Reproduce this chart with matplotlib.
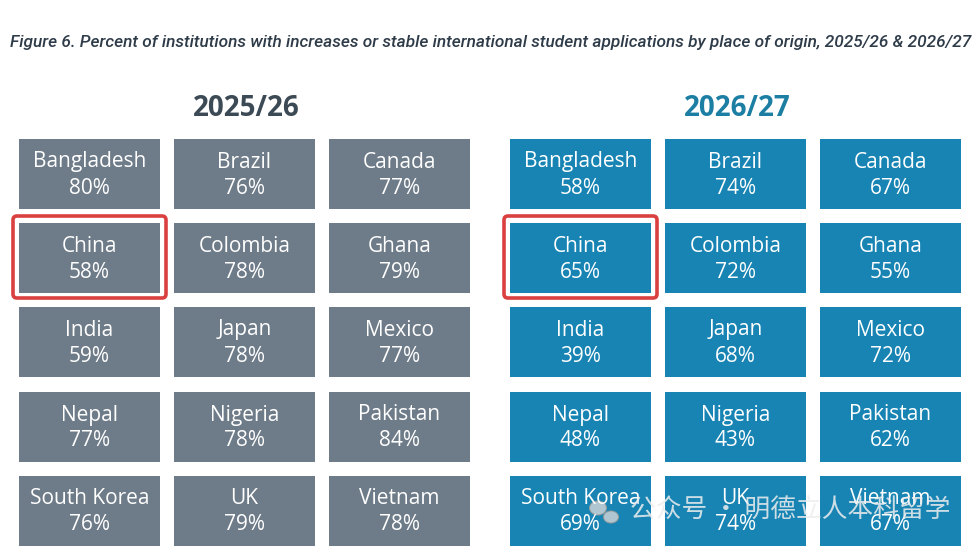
import matplotlib
matplotlib.use("Agg")
import matplotlib.pyplot as plt
from matplotlib.patches import Rectangle, FancyBboxPatch, Ellipse

countries = ["Bangladesh", "Brazil", "Canada",
             "China", "Colombia", "Ghana",
             "India", "Japan", "Mexico",
             "Nepal", "Nigeria", "Pakistan",
             "South Korea", "UK", "Vietnam"]
pct_2025 = [80, 76, 77, 58, 78, 79, 59, 78, 77, 77, 78, 84, 76, 79, 78]
pct_2026 = [58, 74, 67, 65, 72, 55, 39, 68, 72, 48, 43, 62, 69, 74, 67]
panel_titles = ["2025/26", "2026/27"]
highlight = "China"

title = ("Figure 6. Percent of institutions with increases or stable international "
         "student applications by place of origin, 2025/26 & 2026/27")
watermark = "公众号 · 明德立人本科留学"

W, H = 979, 546
fig = plt.figure(figsize=(W / 100, H / 100), dpi=100)
ax = fig.add_axes([0, 0, 1, 1])
ax.set_xlim(0, W)
ax.set_ylim(H, 0)
ax.axis("off")

tile_fill = ["#6e7b88", "#1784b3"]
head_col = ["#3c4a55", "#1d7ea3"]
col_left = [19, 174, 329]
row_top = [139, 223, 307, 392, 476]
tw, th = 141, 70
panel_dx = [0, 491]

ax.text(10, 43, title, fontsize=12.4, style="italic", fontweight="medium", color="#2e3b48",
        family=["Roboto", "DejaVu Sans"], va="center", ha="left")

for p, vals in enumerate([pct_2025, pct_2026]):
    ax.text(panel_dx[p] + 246, 109, panel_titles[p], fontsize=20, fontweight="bold",
            color=head_col[p], ha="center", va="center", family="Open Sans")
    for i, (name, v) in enumerate(zip(countries, vals)):
        r, c = divmod(i, 3)
        x0 = panel_dx[p] + col_left[c]
        y0 = row_top[r]
        ax.add_patch(Rectangle((x0, y0), tw, th, facecolor=tile_fill[p], edgecolor="none"))
        ax.text(x0 + tw / 2, y0 + 23, name, fontsize=15, color="white",
                ha="center", va="center", family="Open Sans")
        ax.text(x0 + tw / 2, y0 + 49, f"{v}%", fontsize=15, color="white",
                ha="center", va="center", family="Open Sans")
        if name == highlight:
            ax.add_patch(FancyBboxPatch((x0 - 6, y0 - 7), tw + 12, th + 12,
                                        boxstyle="round,pad=0,rounding_size=4",
                                        facecolor="none", edgecolor="#d9403f", lw=2.6))

# watermark
ax.add_patch(Ellipse((598, 508), 17, 14, facecolor="#d8d8d8", edgecolor="#9a9a9a", lw=0.8, alpha=0.8))
ax.add_patch(Ellipse((611, 517), 15, 12, facecolor="#d8d8d8", edgecolor="#9a9a9a", lw=0.8, alpha=0.8))
ax.text(630, 511, watermark, fontsize=18.5, color="#eeeeee", alpha=0.85,
        family=["Noto Sans CJK SC", "DejaVu Sans"], ha="left", va="center")

fig.savefig("out.png", dpi=100)
